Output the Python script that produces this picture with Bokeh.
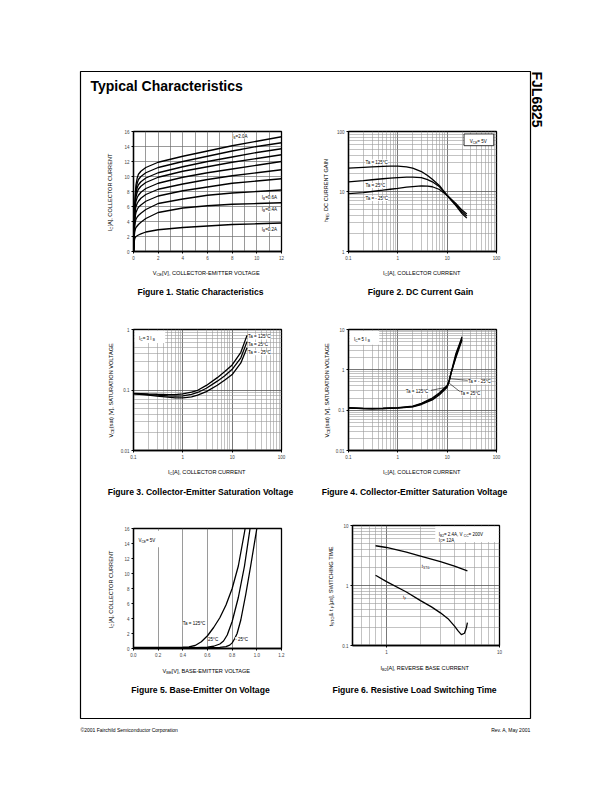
import math
from bokeh.plotting import figure
from bokeh.models import Range1d, FixedTicker, CustomJSTickFormatter, GridBox, ColumnDataSource
from bokeh.core.properties import value
from bokeh.embed import file_html
from bokeh.resources import INLINE

W, H = 612, 792
FONT = "Liberation Sans"

# ---------------- Figure 1 : Static characteristics ----------------
f1_vce = [0, 0.03, 0.06, 0.1, 0.15, 0.2, 0.3, 0.4, 0.6, 1, 2, 4, 6, 8, 10, 12]
f1_ic_ib_2_0 = [0, 1.5, 3.5, 5.8, 7.8, 8.9, 9.8, 10.3, 10.7, 11.2, 11.9, 12.7, 13.4, 14.1, 14.7, 15.3]
f1_ic_ib_1_8 = [0, 1.5, 3.4, 5.6, 7.4, 8.3, 9.1, 9.6, 10.0, 10.5, 11.2, 12.0, 12.7, 13.4, 14.0, 14.5]
f1_ic_ib_1_6 = [0, 1.4, 3.3, 5.4, 7.0, 7.8, 8.5, 8.9, 9.3, 9.8, 10.5, 11.3, 12.0, 12.6, 13.2, 13.7]
f1_ic_ib_1_4 = [0, 1.4, 3.2, 5.2, 6.6, 7.3, 7.9, 8.3, 8.7, 9.2, 9.9, 10.7, 11.3, 11.9, 12.4, 12.9]
f1_ic_ib_1_2 = [0, 1.3, 3.1, 4.9, 6.1, 6.7, 7.2, 7.5, 7.9, 8.4, 9.1, 9.9, 10.5, 11.0, 11.5, 12.0]
f1_ic_ib_1_0 = [0, 1.3, 2.9, 4.5, 5.5, 6.0, 6.4, 6.7, 7.1, 7.6, 8.3, 9.0, 9.6, 10.1, 10.5, 10.9]
f1_ic_ib_0_8 = [0, 1.2, 2.7, 4.0, 4.8, 5.2, 5.6, 5.9, 6.2, 6.7, 7.4, 8.1, 8.6, 9.1, 9.4, 9.7]
f1_ic_ib_0_6 = [0, 1.1, 2.4, 3.4, 4.0, 4.3, 4.6, 4.8, 5.1, 5.6, 6.4, 7.0, 7.5, 7.8, 8.0, 8.2]
f1_ic_ib_0_4 = [0, 1.0, 2.0, 2.6, 3.0, 3.2, 3.4, 3.6, 3.9, 4.4, 5.2, 5.8, 6.1, 6.3, 6.4, 6.5]
f1_ic_ib_0_2 = [0, 0.7, 1.3, 1.7, 1.9, 2.0, 2.1, 2.2, 2.35, 2.6, 2.9, 3.2, 3.4, 3.6, 3.7, 3.8]
f1_x_ticks = [0, 2, 4, 6, 8, 10, 12]
f1_y_ticks = [0, 2, 4, 6, 8, 10, 12, 14, 16]

# ---------------- Figure 2 : DC current gain ----------------
f2_ic = [0.1, 0.2, 0.3, 0.5, 0.7, 1, 1.5, 2, 3, 4, 5, 7, 10, 15, 20, 25]
f2_hfe_125 = [24.5, 25.3, 25.8, 26.2, 26.4, 26.5, 25.8, 24.5, 21.5, 18.5, 16.0, 12.5, 8.5, 5.8, 4.3, 3.6]
f2_hfe_25 = [14.5, 15.2, 15.7, 16.3, 16.7, 17.0, 17.3, 17.4, 17.0, 15.8, 14.5, 12.0, 8.7, 6.0, 4.6, 3.9]
f2_hfe_m25 = [9.2, 9.6, 10.0, 10.5, 10.9, 11.3, 11.8, 12.1, 12.4, 12.3, 12.0, 10.8, 8.6, 6.3, 4.9, 4.2]

# ---------------- Figure 3 : VCE(sat), IC = 3 IB ----------------
f3_ic = [0.1, 0.2, 0.3, 0.5, 0.7, 1, 1.5, 2, 3, 5, 7, 10, 15, 20]
f3_vce_125 = [0.088, 0.086, 0.085, 0.084, 0.084, 0.086, 0.092, 0.099, 0.119, 0.16, 0.2, 0.26, 0.42, 0.8]
f3_vce_25 = [0.087, 0.084, 0.082, 0.080, 0.079, 0.080, 0.085, 0.091, 0.107, 0.14, 0.17, 0.22, 0.34, 0.63]
f3_vce_m25 = [0.086, 0.082, 0.079, 0.076, 0.074, 0.074, 0.077, 0.082, 0.094, 0.12, 0.145, 0.18, 0.28, 0.5]

# ---------------- Figure 4 : VCE(sat), IC = 5 IB ----------------
f4_ic = [0.1, 0.2, 0.3, 0.5, 1, 2, 3, 5, 7, 10, 11, 12, 15, 18, 20]
f4_vce_125 = [0.115, 0.111, 0.110, 0.112, 0.116, 0.126, 0.148, 0.2, 0.27, 0.41, 0.55, 0.85, 2.0, 3.8, 5.5]
f4_vce_25 = [0.114, 0.110, 0.109, 0.110, 0.114, 0.123, 0.143, 0.19, 0.255, 0.39, 0.53, 0.82, 2.2, 4.2, 6.0]
f4_vce_m25 = [0.113, 0.109, 0.108, 0.109, 0.112, 0.12, 0.138, 0.18, 0.24, 0.37, 0.52, 0.85, 2.5, 4.6, 6.6]

# ---------------- Figure 5 : Base-emitter on voltage ----------------
f5_vbe_125 = [0, 0.1, 0.2, 0.3, 0.4, 0.45, 0.5, 0.55, 0.6, 0.65, 0.7, 0.75, 0.8, 0.85, 0.9, 0.905]
f5_ic_125 = [0.15, 0.15, 0.15, 0.15, 0.17, 0.22, 0.4, 0.9, 1.7, 2.8, 4.1, 5.8, 8.0, 11.0, 15.5, 16]
f5_vbe_25 = [0, 0.2, 0.4, 0.5, 0.6, 0.65, 0.7, 0.73, 0.76, 0.8, 0.85, 0.9, 0.945]
f5_ic_25 = [0.12, 0.12, 0.12, 0.13, 0.18, 0.3, 0.6, 1.0, 1.8, 3.6, 6.8, 11.0, 16]
f5_vbe_m25 = [0, 0.2, 0.4, 0.6, 0.7, 0.75, 0.78, 0.8, 0.82, 0.84, 0.87, 0.91, 0.95, 1.0]
f5_ic_m25 = [0.1, 0.1, 0.1, 0.11, 0.14, 0.25, 0.45, 0.75, 1.3, 2.0, 3.8, 7.2, 11.0, 16]
f5_x_ticks = [0.0, 0.2, 0.4, 0.6, 0.8, 1.0, 1.2]
f5_y_ticks = [0, 2, 4, 6, 8, 10, 12, 14, 16]

# ---------------- Figure 6 : Switching time ----------------
f6_ib2_stg = [0.8, 1, 1.5, 2, 3, 4, 5.2]
f6_tstg = [4.6, 4.3, 3.6, 3.1, 2.5, 2.1, 1.75]
f6_ib2_f = [0.8, 1, 1.5, 2, 2.5, 3, 3.5, 4, 4.3, 4.6, 4.9, 5.1, 5.2]
f6_tf = [1.48, 1.16, 0.78, 0.56, 0.44, 0.35, 0.28, 0.21, 0.175, 0.152, 0.16, 0.2, 0.24]

DEC_MINOR = [m * 10.0 ** e for e in range(-3, 3) for m in range(2, 10)]

# ---------------- text width helper (Arial metrics) ----------------
_W = dict(zip(" !(),-./:=[]&°μ%", [278, 278, 333, 333, 278, 333, 278, 278, 278, 584, 278, 278, 667, 400, 576, 889]))
_W.update({d: 556 for d in "0123456789"})
_W.update(dict(zip("ABCDEFGHIJKLMNOPQRSTUVWXYZ",
                   [667, 667, 722, 722, 667, 611, 778, 722, 278, 500, 667, 556, 833, 722, 778, 667, 778, 722, 667, 611, 722, 667, 944, 667, 667, 611])))
_W.update(dict(zip("abcdefghijklmnopqrstuvwxyz",
                   [556, 556, 500, 556, 556, 278, 556, 556, 222, 222, 500, 222, 833, 556, 556, 556, 556, 333, 500, 278, 556, 500, 722, 500, 500, 500])))


def tw(s, size):
    return sum(_W.get(c, 556) for c in s) * size / 1000.0


def rich(p, x, y, segs, size, align="left", angle=0.0, bg=None, sub=0.72):
    widths = [tw(t, size * sub if k else size) for t, k in segs]
    total = sum(widths)
    start = {"left": 0.0, "center": -total / 2.0, "right": -total}[align]
    base = 0.36 * size
    d = dict(x=[], y=[], text=[], xo=[], yo=[], fs=[])
    cum = start
    for (t, k), w in zip(segs, widths):
        perp = base + (0.28 * size if k else 0.0)
        if angle == 0:
            ox, oy = cum, perp
        else:
            ox, oy = perp, -cum
        d["x"].append(x)
        d["y"].append(y)
        d["text"].append(t)
        d["xo"].append(ox)
        d["yo"].append(oy)
        d["fs"].append("%.2fpx" % (size * sub if k else size))
        cum += w
    kw = {}
    if bg is not None:
        kw["background_fill_color"] = bg
    p.text(x="x", y="y", text="text", x_offset="xo", y_offset="yo", text_font_size="fs",
           source=ColumnDataSource(d), angle=angle, text_align="left", text_baseline="alphabetic",
           text_font=value(FONT), text_color="black", **kw)


def fmt(code):
    return CustomJSTickFormatter(code=code)


def chart(l, t, r, b, xr, yr, xtype="linear", ytype="linear"):
    p = figure(width=W, height=H, x_range=Range1d(*xr), y_range=Range1d(*yr),
               x_axis_type=xtype, y_axis_type=ytype, output_backend="svg", toolbar_location=None,
               min_border_left=l, min_border_right=W - r, min_border_top=t, min_border_bottom=H - b,
               border_fill_color=None, background_fill_color="white", frame_align=False,
               outline_line_color="black", outline_line_width=1.3)
    for ax in (p.xaxis, p.yaxis):
        ax.axis_line_color = "black"
        ax.axis_line_width = 1.3
        ax.major_tick_out = 2
        ax.major_tick_in = 0
        ax.major_tick_line_color = "black"
        ax.minor_tick_line_color = None
        ax.major_label_text_font = FONT
        ax.major_label_text_font_size = "4.5px"
        ax.major_label_standoff = 2
    p.grid.grid_line_color = "#6e6e6e"
    p.grid.grid_line_width = 0.7
    return p


def log_axes(p, xt, yt):
    p.xaxis.ticker = FixedTicker(ticks=xt)
    p.yaxis.ticker = FixedTicker(ticks=yt)
    p.xaxis.formatter = fmt("return String(tick)")
    p.yaxis.formatter = fmt("return String(tick)")
    p.xgrid.ticker = FixedTicker(ticks=xt, minor_ticks=DEC_MINOR)
    p.ygrid.ticker = FixedTicker(ticks=yt, minor_ticks=DEC_MINOR)
    p.grid.grid_line_color = "#555555"
    p.grid.grid_line_width = 0.8
    p.grid.minor_grid_line_color = "#9a9a9a"
    p.grid.minor_grid_line_width = 0.6


LW = 1.3
S = 4.5

# ---------------- Figure 1 ----------------
p1 = chart(133, 131, 281, 251, (0, 12), (0, 16))
p1.xaxis.ticker = FixedTicker(ticks=f1_x_ticks)
p1.yaxis.ticker = FixedTicker(ticks=f1_y_ticks)
p1.xgrid.ticker = FixedTicker(ticks=list(range(0, 13)))
p1.ygrid.ticker = FixedTicker(ticks=f1_y_ticks)
for curve in [f1_ic_ib_2_0, f1_ic_ib_1_8, f1_ic_ib_1_6, f1_ic_ib_1_4, f1_ic_ib_1_2,
              f1_ic_ib_1_0, f1_ic_ib_0_8, f1_ic_ib_0_6, f1_ic_ib_0_4, f1_ic_ib_0_2]:
    p1.line(f1_vce, curve, line_color="black", line_width=LW)
rich(p1, 8.0, 15.6, [("I", 0), ("B", 1), ("=2.0A", 0)], S, bg="white")
rich(p1, 10.4, 7.35, [("I", 0), ("B", 1), ("=0.6A", 0)], S, bg="white")
rich(p1, 10.4, 5.75, [("I", 0), ("B", 1), ("=0.4A", 0)], S, bg="white")
rich(p1, 10.4, 3.1, [("I", 0), ("B", 1), ("=0.2A", 0)], S, bg="white")

# ---------------- Figure 2 ----------------
p2 = chart(348, 131, 496, 251, (0.1, 100), (1, 100), "log", "log")
log_axes(p2, [0.1, 1, 10, 100], [1, 10, 100])
for curve in [f2_hfe_125, f2_hfe_25, f2_hfe_m25]:
    p2.line(f2_ic, curve, line_color="black", line_width=LW)
p2.quad(left=[22], right=[88], top=[91], bottom=[58], fill_color="white", line_color="black", line_width=0.8)
rich(p2, 44, 73, [("V", 0), ("CE", 1), (" = 5V", 0)], S, align="center")
rich(p2, 0.22, 33, [("Ta = 125°C", 0)], S, bg="white")
rich(p2, 0.22, 13.4, [("Ta = 25°C", 0)], S, bg="white")
rich(p2, 0.22, 8.1, [("Ta = - 25°C", 0)], S, bg="white")

# ---------------- Figure 3 ----------------
p3 = chart(133, 329, 281, 450, (0.1, 100), (0.01, 1), "log", "log")
log_axes(p3, [0.1, 1, 10, 100], [0.01, 0.1, 1])
for curve in [f3_vce_125, f3_vce_25, f3_vce_m25]:
    p3.line(f3_ic, curve, line_color="black", line_width=LW)
p3.quad(left=[0.105], right=[0.44], top=[0.95], bottom=[0.6], fill_color="white", line_color=None)
rich(p3, 0.13, 0.75, [("I", 0), ("C", 1), (" = 3 I", 0), ("B", 1)], S)
rich(p3, 21, 0.8, [("Ta = 125°C", 0)], S, bg="white")
rich(p3, 21, 0.6, [("Ta = 25°C", 0)], S, bg="white")
rich(p3, 21, 0.44, [("Ta = - 25°C", 0)], S, bg="white")

# ---------------- Figure 4 ----------------
p4 = chart(348, 329, 496, 450, (0.1, 100), (0.01, 10), "log", "log")
log_axes(p4, [0.1, 1, 10, 100], [0.01, 0.1, 1, 10])
for curve in [f4_vce_125, f4_vce_25, f4_vce_m25]:
    p4.line(f4_ic, curve, line_color="black", line_width=LW)
p4.quad(left=[0.105], right=[0.42], top=[9.2], bottom=[4.2], fill_color="white", line_color=None)
rich(p4, 0.13, 6.2, [("I", 0), ("C", 1), (" = 5 I", 0), ("B", 1)], S)
p4.segment(x0=[11.6, 10.9, 4.7], y0=[0.6, 0.47, 0.31], x1=[26, 18, 9.6], y1=[0.55, 0.29, 0.37],
           line_color="black", line_width=0.6)
rich(p4, 26.5, 0.55, [("Ta = - 25°C", 0)], S, bg="white")
rich(p4, 18.5, 0.29, [("Ta = 25°C", 0)], S, bg="white")
rich(p4, 1.45, 0.31, [("Ta = 125°C", 0)], S, bg="white")

# ---------------- Figure 5 ----------------
p5 = chart(133, 528, 281, 648, (0, 1.2), (0, 16))
p5.xaxis.ticker = FixedTicker(ticks=f5_x_ticks)
p5.yaxis.ticker = FixedTicker(ticks=f5_y_ticks)
p5.xaxis.formatter = fmt("return tick.toFixed(1)")
p5.xgrid.ticker = FixedTicker(ticks=f5_x_ticks)
p5.ygrid.visible = False
for xs, ys in [(f5_vbe_125, f5_ic_125), (f5_vbe_25, f5_ic_25), (f5_vbe_m25, f5_ic_m25)]:
    p5.line(xs, ys, line_color="black", line_width=LW)
p5.quad(left=[0.02], right=[0.3], top=[15.7], bottom=[13.5], fill_color="white", line_color=None)
rich(p5, 0.04, 14.6, [("V", 0), ("CE", 1), (" = 5V", 0)], S)
rich(p5, 0.40, 3.5, [("Ta = 125°C", 0)], S, bg="white")
rich(p5, 0.605, 1.4, [("25°C", 0)], S, bg="white")
rich(p5, 0.825, 1.4, [("- 25°C", 0)], S, bg="white")

# ---------------- Figure 6 ----------------
p6 = chart(352, 525, 499, 645, (0.5, 10), (0.1, 10), "log", "log")
log_axes(p6, [1, 10], [0.1, 1, 10])
p6.line(f6_ib2_stg, f6_tstg, line_color="black", line_width=LW)
p6.line(f6_ib2_f, f6_tf, line_color="black", line_width=LW)
p6.quad(left=[2.7], right=[9.8], top=[9.6], bottom=[5.3], fill_color="white", line_color=None)
rich(p6, 2.9, 7.6, [("I", 0), ("B2", 1), (" = 2.4A, V", 0), ("CC", 1), (" = 200V", 0)], S)
rich(p6, 2.9, 6.1, [("I", 0), ("C", 1), (" = 12A", 0)], S)
rich(p6, 2.05, 2.2, [("t", 0), ("STG", 1)], S, bg="white")
rich(p6, 1.4, 0.68, [("t", 0), ("F", 1)], S, bg="white")

# ---------------- Page (frame, titles, labels, captions) ----------------
page = figure(width=W, height=H, x_range=Range1d(0, W), y_range=Range1d(0, H), output_backend="svg",
              toolbar_location=None, min_border=0, x_axis_location=None, y_axis_location=None,
              outline_line_color=None, background_fill_color="white", border_fill_color="white",
              frame_align=False)
page.grid.visible = False


def Y(y):
    return H - y


page.quad(left=[80], right=[530], top=[Y(71)], bottom=[Y(718)], fill_color=None, line_color="black", line_width=1.2)
page.text(x=[90], y=[Y(85)], text=["Typical Characteristics"], text_font=value(FONT), text_font_style="bold",
          text_font_size="14px", text_baseline="alphabetic", text_align="left", text_color="black")
page.text(x=[536], y=[Y(71)], text=["FJL6825"], angle=-math.pi / 2, text_font=value(FONT), text_font_style="bold",
          text_font_size="14px", text_baseline="alphabetic", text_align="left", text_color="black")
page.text(x=[80], y=[Y(729.5)], text=["©2001 Fairchild Semiconductor Corporation"], text_font=value(FONT),
          text_font_size="5px", text_baseline="alphabetic", text_align="left", text_color="black")
page.text(x=[530], y=[Y(729.5)], text=["Rev. A, May 2001"], text_font=value(FONT),
          text_font_size="5px", text_baseline="alphabetic", text_align="right", text_color="black")

captions = [
    (200, 291, "Figure 1. Static Characteristics"),
    (420, 291, "Figure 2. DC Current Gain"),
    (200, 491, "Figure 3. Collector-Emitter Saturation Voltage"),
    (414, 491, "Figure 4. Collector-Emitter Saturation Voltage"),
    (200, 689, "Figure 5. Base-Emitter On Voltage"),
    (414, 689, "Figure 6. Resistive Load Switching Time"),
]
page.text(x=[c[0] for c in captions], y=[Y(c[1]) for c in captions], text=[c[2] for c in captions],
          text_font=value(FONT), text_font_style="bold", text_font_size="8.6px",
          text_baseline="middle", text_align="center", text_color="black")

AL = 5.6
IC_LABEL = [("I", 0), ("C", 1), (" [A], COLLECTOR CURRENT", 0)]
VSAT_LABEL = [("V", 0), ("CE", 1), ("(sat) [V], SATURATION VOLTAGE", 0)]
rich(page, 207, Y(270), [("V", 0), ("CE", 1), (" [V], COLLECTOR-EMITTER VOLTAGE", 0)], AL, align="center")
rich(page, 422, Y(270), IC_LABEL, AL, align="center")
rich(page, 207, Y(469), IC_LABEL, AL, align="center")
rich(page, 422, Y(469), IC_LABEL, AL, align="center")
rich(page, 207, Y(668), [("V", 0), ("BE", 1), (" [V], BASE-EMITTER VOLTAGE", 0)], AL, align="center")
rich(page, 425, Y(665), [("I", 0), ("B2", 1), (" [A], REVERSE BASE CURRENT", 0)], AL, align="center")
R = math.pi / 2
rich(page, 107, Y(191), IC_LABEL, AL, align="center", angle=R)
rich(page, 323, Y(190), [("h", 0), ("FE", 1), (", DC CURRENT GAIN", 0)], AL, align="center", angle=R)
rich(page, 108, Y(389), VSAT_LABEL, AL, align="center", angle=R)
rich(page, 324, Y(389), VSAT_LABEL, AL, align="center", angle=R)
rich(page, 108, Y(588), IC_LABEL, AL, align="center", angle=R)
rich(page, 328, Y(585), [("t", 0), ("STG", 1), (" & t", 0), ("F", 1), (" [μs], SWITCHING TIME", 0)], AL,
     align="center", angle=R)

layout = GridBox(children=[(page, 0, 0), (p1, 0, 0), (p2, 0, 0), (p3, 0, 0), (p4, 0, 0), (p5, 0, 0), (p6, 0, 0)])

open("out.html", "w").write(file_html(layout, INLINE))
